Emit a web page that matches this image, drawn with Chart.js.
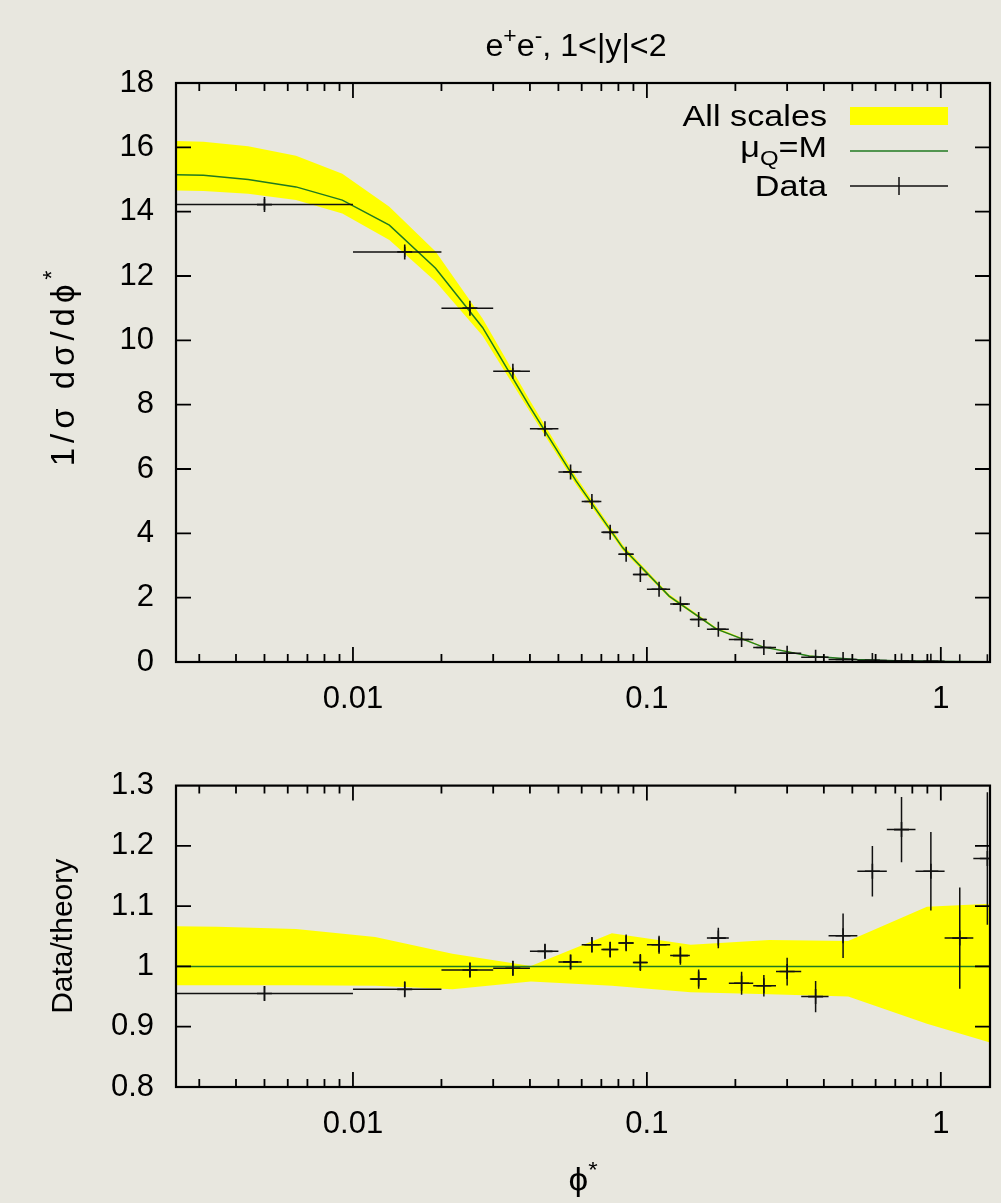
<!DOCTYPE html>
<html>
<head>
<meta charset="utf-8">
<script src="https://cdn.jsdelivr.net/npm/chart.js@4.4.1/dist/chart.umd.min.js"></script>
<style>
  html, body { margin: 0; padding: 0; background: #e8e7df; }
  #wrap { position: relative; width: 1001px; height: 1203px; overflow: hidden; }
  canvas { position: absolute; left: 0; }
  #top { top: 0; }
  #bottom { top: 745px; }
</style>
</head>
<body>
<div id="wrap">
  <canvas id="top" width="1001" height="745"></canvas>
  <canvas id="bottom" width="1001" height="458"></canvas>
</div>
<script>
const FONT = "'Liberation Sans', Arial, Helvetica, sans-serif";

// data bins in phi*
const binCenter = [0.005, 0.015, 0.025, 0.035, 0.045, 0.055, 0.065, 0.075, 0.085, 0.095,
  0.11, 0.13, 0.15, 0.175, 0.21, 0.25, 0.30, 0.375, 0.465, 0.585, 0.735, 0.925, 1.16, 1.44];
const binLow = [0, 0.01, 0.02, 0.03, 0.04, 0.05, 0.06, 0.07, 0.08, 0.09,
  0.10, 0.12, 0.14, 0.16, 0.19, 0.23, 0.275, 0.335, 0.415, 0.52, 0.655, 0.82, 1.03, 1.29];
const binHigh = [0.01, 0.02, 0.03, 0.04, 0.05, 0.06, 0.07, 0.08, 0.09, 0.10,
  0.12, 0.14, 0.16, 0.19, 0.23, 0.275, 0.335, 0.415, 0.52, 0.655, 0.82, 1.03, 1.29, 1.62];

// 1/sigma dsigma/dphi*
const dataValue = [14.22, 12.75, 11.0, 9.04, 7.25, 5.91, 4.99, 4.03, 3.35, 2.72,
  2.26, 1.80, 1.32, 1.02, 0.70, 0.45, 0.27, 0.15, 0.08, 0.05, 0.03, 0.02, 0.01, 0.006];
const dataError = [0.17, 0.16, 0.13, 0.11, 0.09, 0.07, 0.07, 0.05, 0.05, 0.04,
  0.03, 0.03, 0.02, 0.02, 0.013, 0.008, 0.006, 0.004, 0.003, 0.002, 0.0016, 0.0013, 0.0008, 0.0007];

// data / theory
const ratioValue = [0.955, 0.962, 0.994, 0.997, 1.025, 1.0075, 1.036, 1.028, 1.039, 1.0065,
  1.036, 1.018, 0.979, 1.047, 0.972, 0.968, 0.9915, 0.95, 1.051, 1.158, 1.227, 1.158, 1.047, 1.179];
const ratioError = [0.012, 0.013, 0.012, 0.012, 0.012, 0.012, 0.013, 0.013, 0.014, 0.014,
  0.015, 0.015, 0.016, 0.017, 0.019, 0.018, 0.023, 0.026, 0.037, 0.042, 0.054, 0.065, 0.084, 0.11];

// theory, mu_Q = M, and the band from all scale choices
const theoryX = [0.0021, 0.0031, 0.0044, 0.0064, 0.0092, 0.0133, 0.0191, 0.0276, 0.0398, 0.0574,
  0.0828, 0.119, 0.172, 0.248, 0.357, 0.515, 0.743, 1.07, 1.55];
const theoryCentral = [15.16, 15.13, 15.0, 14.77, 14.36, 13.58, 12.24, 10.4, 7.96, 5.63,
  3.55, 2.05, 1.03, 0.47, 0.19, 0.075, 0.03, 0.012, 0.005];
const theoryHigh = [16.22, 16.17, 16.03, 15.74, 15.18, 14.15, 12.76, 10.68, 8.16, 5.76,
  3.64, 2.11, 1.07, 0.49, 0.2, 0.08, 0.032, 0.013, 0.006];
const theoryLow = [14.67, 14.64, 14.56, 14.36, 13.94, 13.12, 11.83, 10.14, 7.81, 5.51,
  3.47, 2.0, 1.0, 0.455, 0.18, 0.07, 0.028, 0.011, 0.0045];

// band in the ratio panel
const ratioBandX = [0.00186, 0.00346, 0.0064, 0.0119, 0.0218, 0.0403, 0.076, 0.141, 0.261, 0.484, 0.897, 1.66];
const ratioBandHigh = [1.067, 1.066, 1.062, 1.049, 1.021, 1.0006, 1.055, 1.036, 1.044, 1.042, 1.099, 1.105];
const ratioBandLow = [0.969, 0.969, 0.969, 0.968, 0.962, 0.975, 0.968, 0.957, 0.954, 0.950, 0.905, 0.866];
const ratioCentral = [1, 1, 1, 1, 1, 1, 1, 1, 1, 1, 1, 1];

// axes
const xRange = [0.0025, 1.47];
const xLabelValues = [0.01, 0.1, 1];
const xLabelText = ['0.01', '0.1', '1'];
const xMinorTicks = [0.003, 0.004, 0.005, 0.006, 0.007, 0.008, 0.009,
  0.02, 0.03, 0.04, 0.05, 0.06, 0.07, 0.08, 0.09,
  0.2, 0.3, 0.4, 0.5, 0.6, 0.7, 0.8, 0.9];
const topYTicks = [0, 2, 4, 6, 8, 10, 12, 14, 16, 18];
const topYLabels = ['0', '2', '4', '6', '8', '10', '12', '14', '16', '18'];
const ratioYTicks = [0.8, 0.9, 1, 1.1, 1.2, 1.3];
const ratioYLabels = ['0.8', '0.9', '1', '1.1', '1.2', '1.3'];

const YELLOW = '#ffff00';
const GREEN = 'rgb(32,122,32)';
const INK = '#111';

const pts = (xs, ys) => xs.map((x, i) => ({ x: x, y: ys[i] }));

// text with sub/superscripts; sx stretches the text horizontally like the original figure
function richText(ctx, parts, x, y, size, align, sx, spacing) {
  sx = sx || 1;
  spacing = spacing || 0;
  const sizes = parts.map(p => p[1] ? Math.round(size * 0.7) : size);
  const widths = parts.map((p, i) => {
    ctx.font = sizes[i] + 'px ' + FONT;
    return ctx.measureText(p[0]).width + spacing * p[0].length;
  });
  const w = widths.reduce((s, v) => s + v, 0);
  let cx = align === 'right' ? -w : align === 'center' ? -w / 2 : 0;
  ctx.save();
  ctx.translate(x, y);
  ctx.scale(sx, 1);
  if (spacing) ctx.letterSpacing = spacing + 'px';
  parts.forEach((p, i) => {
    ctx.font = sizes[i] + 'px ' + FONT;
    const dy = p[1] === 1 ? -size * 0.42 : p[1] === -1 ? size * 0.25 : 0;
    ctx.fillText(p[0], cx, dy);
    cx += widths[i];
  });
  ctx.restore();
}

function xScale(height) {
  return {
    type: 'logarithmic', min: xRange[0], max: xRange[1],
    grid: { display: false, drawTicks: false }, border: { display: false },
    afterBuildTicks: s => { s.ticks = xLabelValues.map(v => ({ value: v })); },
    afterFit: s => { s.height = height; },
    ticks: {
      autoSkip: false, maxRotation: 0, minRotation: 0, padding: 19, color: '#000',
      font: { family: FONT, size: 31 },
      callback: (v, i) => xLabelText[i]
    }
  };
}

function yScale(min, max, ticks, labels) {
  return {
    type: 'linear', min: min, max: max,
    grid: { display: false, drawTicks: false }, border: { display: false },
    afterBuildTicks: s => { s.ticks = ticks.map(v => ({ value: v })); },
    afterFit: s => { s.width = 176; },
    ticks: {
      padding: 22, color: '#000', font: { family: FONT, size: 31 },
      callback: (v, i) => labels[i]
    }
  };
}

// frame with gnuplot-style inward ticks on all four sides
const framePlugin = {
  id: 'frame',
  afterDraw(chart) {
    const { ctx, chartArea: a, scales: { x, y } } = chart;
    ctx.save();
    ctx.strokeStyle = '#000';
    ctx.lineWidth = 1.8;
    ctx.beginPath();
    xLabelValues.concat(xMinorTicks).forEach(v => {
      const px = x.getPixelForValue(v);
      if (px <= a.left || px >= a.right) return;
      const len = xLabelValues.includes(v) ? 15 : 8;
      ctx.moveTo(px, a.bottom); ctx.lineTo(px, a.bottom - len);
      ctx.moveTo(px, a.top); ctx.lineTo(px, a.top + len);
    });
    y.ticks.forEach(t => {
      const py = y.getPixelForValue(t.value);
      if (py <= a.top + 1 || py >= a.bottom - 1) return;
      ctx.moveTo(a.left, py); ctx.lineTo(a.left + 15, py);
      ctx.moveTo(a.right, py); ctx.lineTo(a.right - 15, py);
    });
    ctx.stroke();
    ctx.lineWidth = 2.2;
    ctx.strokeRect(a.left, a.top, a.right - a.left, a.bottom - a.top);
    ctx.restore();
  }
};

function errorBars(values, errors) {
  return {
    id: 'errorBars',
    afterDatasetsDraw(chart) {
      const { ctx, chartArea: a, scales: { x, y } } = chart;
      ctx.save();
      ctx.beginPath();
      ctx.rect(a.left, a.top, a.right - a.left, a.bottom - a.top);
      ctx.clip();
      ctx.strokeStyle = INK;
      ctx.lineWidth = 1.5;
      ctx.beginPath();
      binCenter.forEach((c, i) => {
        const py = y.getPixelForValue(values[i]);
        const px = x.getPixelForValue(c);
        const x0 = binLow[i] > 0 ? x.getPixelForValue(binLow[i]) : a.left;
        ctx.moveTo(x0, py);
        ctx.lineTo(x.getPixelForValue(binHigh[i]), py);
        ctx.moveTo(px, y.getPixelForValue(values[i] - errors[i]));
        ctx.lineTo(px, y.getPixelForValue(values[i] + errors[i]));
      });
      ctx.stroke();
      ctx.restore();
    }
  };
}

const topText = {
  id: 'topText',
  afterDraw(chart) {
    const { ctx } = chart;
    ctx.save();
    ctx.fillStyle = '#000';
    ctx.textAlign = 'left';
    ctx.textBaseline = 'alphabetic';
    richText(ctx, [['e'], ['+', 1], ['e'], ['-', 1], [', 1<|y|<2']], 576, 56, 31, 'center', 1.04);

    // legend
    richText(ctx, [['All scales']], 827, 126, 30, 'right', 1.14);
    ctx.fillStyle = YELLOW;
    ctx.fillRect(850, 107, 98, 18);
    ctx.fillStyle = '#000';
    richText(ctx, [['μ'], ['Q', -1], ['=M']], 827, 157, 30, 'right', 1.14);
    ctx.strokeStyle = GREEN;
    ctx.lineWidth = 1.5;
    ctx.beginPath(); ctx.moveTo(850, 151); ctx.lineTo(948, 151); ctx.stroke();
    richText(ctx, [['Data']], 827, 196, 30, 'right', 1.14);
    ctx.strokeStyle = INK;
    ctx.beginPath();
    ctx.moveTo(850, 186); ctx.lineTo(948, 186);
    ctx.moveTo(899, 177); ctx.lineTo(899, 195);
    ctx.stroke();

    ctx.translate(74, 366);
    ctx.rotate(-Math.PI / 2);
    richText(ctx, [['1/σ dσ/dϕ'], ['*', 1]], 0, 0, 33, 'center', 1, 5);
    ctx.restore();
  }
};

const bottomText = {
  id: 'bottomText',
  afterDraw(chart) {
    const { ctx, chartArea: a } = chart;
    ctx.save();
    ctx.fillStyle = '#000';
    ctx.textAlign = 'left';
    ctx.textBaseline = 'alphabetic';
    richText(ctx, [['ϕ'], ['*', 1]], 583, 445, 32, 'center', 1.1);
    ctx.translate(72, (a.top + a.bottom) / 2);
    ctx.rotate(-Math.PI / 2);
    richText(ctx, [['Data/theory']], 0, 0, 30, 'center');
    ctx.restore();
  }
};

function bandDatasets(xs, low, high, central) {
  return [
    { type: 'line', data: pts(xs, low), borderWidth: 0, borderColor: 'rgba(0,0,0,0)',
      pointRadius: 0, fill: false, order: 4, clip: 0 },
    { type: 'line', data: pts(xs, high), borderWidth: 0, borderColor: 'rgba(0,0,0,0)',
      backgroundColor: YELLOW, pointRadius: 0, fill: { target: 0 }, order: 3, clip: 0 },
    { type: 'line', data: pts(xs, central), borderWidth: 1.5, borderColor: GREEN,
      pointRadius: 0, fill: false, tension: 0, order: 1, clip: 0 }
  ];
}

function pointsDataset(values) {
  return { type: 'line', data: pts(binCenter, values), showLine: false, pointStyle: 'cross',
    pointRadius: 7.5, pointBorderWidth: 1.6, pointBorderColor: INK, borderColor: INK,
    order: 0, clip: 0 };
}

function baseOptions(pad, xHeight, yScaleCfg) {
  return {
    responsive: false, animation: false, devicePixelRatio: 1, events: [],
    layout: { padding: { top: pad, right: 11, bottom: 0, left: 0 } },
    plugins: { legend: { display: false }, title: { display: false }, tooltip: { enabled: false },
      filler: { drawTime: 'beforeDatasetsDraw' } },
    scales: { x: xScale(xHeight), y: yScaleCfg }
  };
}

new Chart(document.getElementById('top').getContext('2d'), {
  type: 'line',
  data: { datasets: bandDatasets(theoryX, theoryLow, theoryHigh, theoryCentral).concat([pointsDataset(dataValue)]) },
  options: baseOptions(83, 83, yScale(0, 18, topYTicks, topYLabels)),
  plugins: [errorBars(dataValue, dataError), framePlugin, topText]
});

new Chart(document.getElementById('bottom').getContext('2d'), {
  type: 'line',
  data: { datasets: bandDatasets(ratioBandX, ratioBandLow, ratioBandHigh, ratioCentral).concat([pointsDataset(ratioValue)]) },
  options: baseOptions(28, 116, yScale(0.8, 1.3, ratioYTicks, ratioYLabels)),
  plugins: [errorBars(ratioValue, ratioError), framePlugin, bottomText]
});
</script>
</body>
</html>
